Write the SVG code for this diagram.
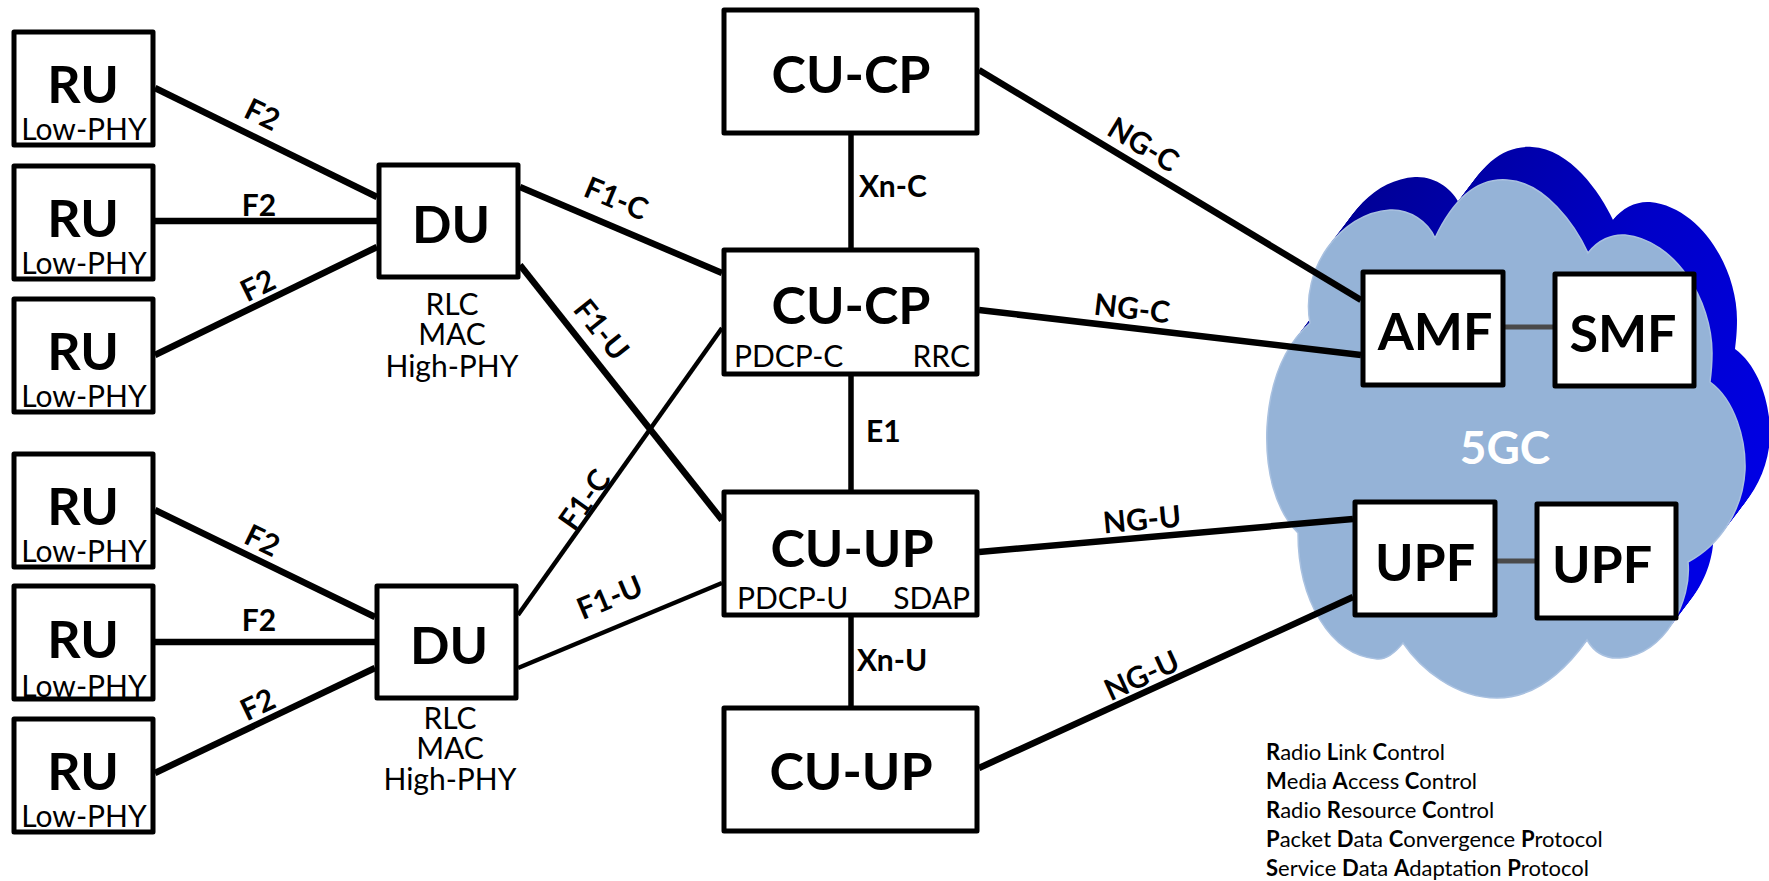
<svg xmlns="http://www.w3.org/2000/svg" xmlns:xlink="http://www.w3.org/1999/xlink" width="1769" height="881" viewBox="0 0 1769 881">
  <style>
    .box { fill: #ffffff; stroke: #000000; stroke-width: 5; stroke-linejoin: round; }
    .link { stroke: #000000; stroke-width: 6.5; fill: none; }
    .thin { stroke: #000000; stroke-width: 4.5; fill: none; }
    .stem { stroke: #000000; stroke-width: 5.5; fill: none; }
    .core { stroke: #4a4a4a; stroke-width: 5; fill: none; }
    .title { font-family: Lato, "Open Sans", sans-serif; font-weight: 700; font-size: 52px; text-anchor: middle; fill: #000000; }
    .sub { font-family: Lato, "Open Sans", sans-serif; font-size: 30px; fill: #000000; }
    .mid { text-anchor: middle; }
    .end { text-anchor: end; }
    .if { font-family: Lato, "Open Sans", sans-serif; font-weight: 700; font-size: 30px; fill: #000000; }
    .ifc { font-family: Lato, "Open Sans", sans-serif; font-weight: 700; font-size: 30px; fill: #000000; text-anchor: middle; }
    .legend { font-family: Lato, "Open Sans", sans-serif; font-size: 22px; fill: #000000; }
    .legend tspan.k { font-weight: 700; }
  </style>
  <defs>
    <path id="cloudShape" d="M1310,323 C1300,270 1340,213 1390,210 C1410,209 1428,222 1435,238 C1455,196 1480,178 1507,180 C1545,182 1575,225 1588,253 C1598,240 1612,234 1625,235 C1675,240 1712,300 1712,353 C1712,365 1711,374 1710,382 C1735,400 1746,440 1745,470 C1743,510 1720,545 1688,562 C1692,600 1665,655 1620,658 C1605,659 1594,652 1587,640 C1562,675 1532,698 1497,698 C1455,698 1420,668 1403,643 C1393,655 1385,660 1377,659 C1330,655 1298,600 1298,533 C1275,510 1265,470 1267,427 C1270,380 1285,345 1310,323 Z"/>
    <linearGradient id="depth" gradientUnits="userSpaceOnUse" x1="1330" y1="150" x2="1769" y2="470">
      <stop offset="0" stop-color="#00008c"/>
      <stop offset="0.55" stop-color="#0000c8"/>
      <stop offset="1" stop-color="#0000e4"/>
    </linearGradient>
  </defs>

  <!-- 5GC cloud: extruded back face, then front face -->
  <g id="cloud">
    <g fill="url(#depth)">
      <use xlink:href="#cloudShape" transform="translate(25,-33)"/>
      <use xlink:href="#cloudShape" transform="translate(23,-30.4)"/>
      <use xlink:href="#cloudShape" transform="translate(21,-27.7)"/>
      <use xlink:href="#cloudShape" transform="translate(19,-25.1)"/>
      <use xlink:href="#cloudShape" transform="translate(17,-22.4)"/>
      <use xlink:href="#cloudShape" transform="translate(15,-19.8)"/>
      <use xlink:href="#cloudShape" transform="translate(13,-17.2)"/>
      <use xlink:href="#cloudShape" transform="translate(11,-14.5)"/>
      <use xlink:href="#cloudShape" transform="translate(9,-11.9)"/>
      <use xlink:href="#cloudShape" transform="translate(7,-9.2)"/>
      <use xlink:href="#cloudShape" transform="translate(5,-6.6)"/>
      <use xlink:href="#cloudShape" transform="translate(3,-4)"/>
      <use xlink:href="#cloudShape" transform="translate(1,-1.3)"/>
    </g>
    <use xlink:href="#cloudShape" fill="#95b3d7" stroke="#a9c1e0" stroke-width="1.5"/>
    <text x="1505" y="464" font-family="Lato, 'Open Sans', sans-serif" font-weight="700" font-size="46" fill="#ffffff" text-anchor="middle">5GC</text>
  </g>

  <!-- interfaces -->
  <g id="connectors">
    <line class="link" x1="155" y1="88" x2="377" y2="197"/>
    <line class="link" x1="155" y1="221" x2="377" y2="221"/>
    <line class="link" x1="155" y1="355" x2="377" y2="247"/>
    <line class="link" x1="155" y1="510" x2="375" y2="617"/>
    <line class="link" x1="155" y1="642" x2="375" y2="642"/>
    <line class="link" x1="155" y1="773" x2="375" y2="668"/>

    <line class="link" x1="520" y1="187" x2="722" y2="273"/>
    <line class="link" x1="520" y1="265" x2="722" y2="520"/>
    <line class="thin" x1="518" y1="615" x2="722" y2="328"/>
    <line class="thin" x1="518" y1="668" x2="722" y2="583"/>

    <line class="stem" x1="851" y1="134" x2="851" y2="248"/>
    <line class="stem" x1="851" y1="376" x2="851" y2="490"/>
    <line class="stem" x1="851" y1="617" x2="851" y2="706"/>

    <line class="link" x1="979" y1="70" x2="1361" y2="300"/>
    <line class="link" x1="979" y1="310" x2="1361" y2="355"/>
    <line class="link" x1="979" y1="552" x2="1353" y2="519"/>
    <line class="link" x1="979" y1="768" x2="1353" y2="597"/>

    <line class="core" x1="1505" y1="327" x2="1553" y2="327"/>
    <line class="core" x1="1497" y1="561" x2="1535" y2="561"/>

    <text class="ifc" transform="translate(262,115) rotate(26)" y="10">F2</text>
    <text class="ifc" x="259" y="216">F2</text>
    <text class="ifc" transform="translate(258,286) rotate(-26)" y="10">F2</text>
    <text class="ifc" transform="translate(262,541) rotate(25.8)" y="10">F2</text>
    <text class="ifc" x="259" y="631">F2</text>
    <text class="ifc" transform="translate(258,705) rotate(-25.4)" y="10">F2</text>

    <text class="ifc" transform="translate(616,199) rotate(22.7)" y="10">F1-C</text>
    <text class="ifc" transform="translate(601,330) rotate(51.5)" y="10">F1-U</text>
    <text class="ifc" transform="translate(585,500) rotate(-54.7)" y="10">F1-C</text>
    <text class="ifc" transform="translate(610,598) rotate(-22.7)" y="10">F1-U</text>

    <text class="if" x="859" y="197">Xn-C</text>
    <text class="if" x="866" y="442">E1</text>
    <text class="if" x="857" y="671">Xn-U</text>

    <text class="ifc" transform="translate(1143,145) rotate(31)" y="10">NG-C</text>
    <text class="ifc" transform="translate(1132,309) rotate(6.7)" y="10">NG-C</text>
    <text class="ifc" transform="translate(1142,520) rotate(-5.3)" y="10">NG-U</text>
    <text class="ifc" transform="translate(1142,676) rotate(-24.6)" y="10">NG-U</text>
  </g>

  <!-- radio units -->
  <g id="ru1"><rect class="box" x="14" y="32" width="139" height="113"/><text class="title" x="83" y="103">RU</text><text class="sub mid" x="84" y="140">Low-PHY</text></g>
  <g id="ru2"><rect class="box" x="14" y="166" width="139" height="113"/><text class="title" x="83" y="237">RU</text><text class="sub mid" x="84" y="274">Low-PHY</text></g>
  <g id="ru3"><rect class="box" x="14" y="299" width="139" height="113"/><text class="title" x="83" y="370">RU</text><text class="sub mid" x="84" y="407">Low-PHY</text></g>
  <g id="ru4"><rect class="box" x="14" y="454" width="139" height="113"/><text class="title" x="83" y="525">RU</text><text class="sub mid" x="84" y="562">Low-PHY</text></g>
  <g id="ru5"><rect class="box" x="14" y="586" width="139" height="113"/><text class="title" x="83" y="658">RU</text><text class="sub mid" x="84" y="697">Low-PHY</text></g>
  <g id="ru6"><rect class="box" x="14" y="719" width="139" height="113"/><text class="title" x="83" y="790">RU</text><text class="sub mid" x="84" y="827">Low-PHY</text></g>

  <!-- distributed units -->
  <g id="du1">
    <rect class="box" x="379" y="165" width="139" height="112"/>
    <text class="title" x="451" y="243">DU</text>
    <text class="sub mid" x="452" y="315">RLC</text>
    <text class="sub mid" x="452" y="345">MAC</text>
    <text class="sub mid" x="452" y="377">High-PHY</text>
  </g>
  <g id="du2">
    <rect class="box" x="377" y="586" width="139" height="112"/>
    <text class="title" x="449" y="664">DU</text>
    <text class="sub mid" x="450" y="729">RLC</text>
    <text class="sub mid" x="450" y="759">MAC</text>
    <text class="sub mid" x="450" y="790">High-PHY</text>
  </g>

  <!-- central units -->
  <g id="cucp1"><rect class="box" x="724" y="10" width="253" height="123"/><text class="title" x="851" y="93">CU-CP</text></g>
  <g id="cucp2">
    <rect class="box" x="724" y="250" width="253" height="124"/>
    <text class="title" x="851" y="324">CU-CP</text>
    <text class="sub" x="734" y="367">PDCP-C</text>
    <text class="sub end" x="970" y="367">RRC</text>
  </g>
  <g id="cuup1">
    <rect class="box" x="724" y="492" width="253" height="123"/>
    <text class="title" x="852" y="567">CU-UP</text>
    <text class="sub" x="737" y="609">PDCP-U</text>
    <text class="sub end" x="970" y="609">SDAP</text>
  </g>
  <g id="cuup2"><rect class="box" x="724" y="708" width="253" height="123"/><text class="title" x="851" y="790">CU-UP</text></g>

  <!-- core network functions -->
  <g id="amf"><rect class="box" x="1363" y="272" width="140" height="113"/><text class="title" x="1435" y="350">AMF</text></g>
  <g id="smf"><rect class="box" x="1555" y="274" width="139" height="112"/><text class="title" x="1623" y="352">SMF</text></g>
  <g id="upf1"><rect class="box" x="1355" y="502" width="140" height="113"/><text class="title" x="1425" y="581">UPF</text></g>
  <g id="upf2"><rect class="box" x="1537" y="504" width="139" height="114"/><text class="title" x="1602" y="583">UPF</text></g>

  <!-- abbreviations -->
  <g id="legend">
    <text class="legend" x="1266" y="760"><tspan class="k">R</tspan>adio <tspan class="k">L</tspan>ink <tspan class="k">C</tspan>ontrol</text>
    <text class="legend" x="1266" y="789"><tspan class="k">M</tspan>edia <tspan class="k">A</tspan>ccess <tspan class="k">C</tspan>ontrol</text>
    <text class="legend" x="1266" y="818"><tspan class="k">R</tspan>adio <tspan class="k">R</tspan>esource <tspan class="k">C</tspan>ontrol</text>
    <text class="legend" x="1266" y="847"><tspan class="k">P</tspan>acket <tspan class="k">D</tspan>ata <tspan class="k">C</tspan>onvergence <tspan class="k">P</tspan>rotocol</text>
    <text class="legend" x="1266" y="876"><tspan class="k">S</tspan>ervice <tspan class="k">D</tspan>ata <tspan class="k">A</tspan>daptation <tspan class="k">P</tspan>rotocol</text>
  </g>
</svg>
